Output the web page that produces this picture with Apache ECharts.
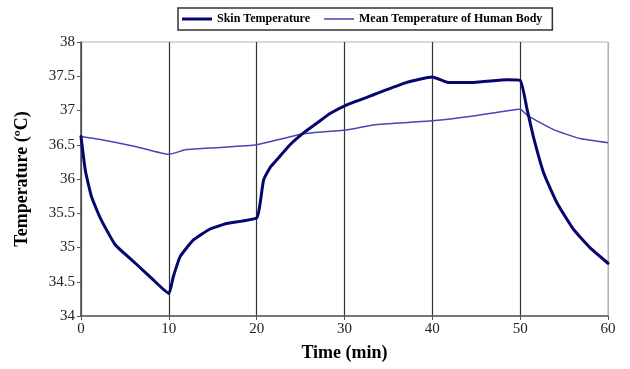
<!DOCTYPE html>
<html>
<head>
<meta charset="utf-8">
<script src="https://cdn.jsdelivr.net/npm/echarts@6/dist/echarts.min.js"></script>
<style>
  html, body { margin: 0; padding: 0; background: #fff; }
  #chart { width: 630px; height: 369px; }
</style>
</head>
<body>
<div id="chart"></div>
<script>
// Time (min) and temperatures (°C)
const skinTime = [0, 0.5, 1.2, 2.2, 3.9, 6.2, 8.05, 10,
  10.5, 11.3, 12.8, 14.7, 16.6, 20,
  20.4, 20.8, 21.6, 22.3, 23.8, 25.3, 26.9, 28.4, 30.4,
  33.3, 37.1, 40, 41.8, 44.7, 48.5, 50,
  50.8, 51.5, 52.7, 54.2, 56.1, 58.0, 60];
const skinTemp = [36.62, 36.12, 35.74, 35.43, 35.04, 34.77, 34.55, 34.33,
  34.57, 34.87, 35.11, 35.27, 35.35, 35.43,
  35.65, 35.99, 36.18, 36.28, 36.5, 36.67, 36.82, 36.96, 37.09,
  37.23, 37.41, 37.49, 37.41, 37.41, 37.45, 37.44,
  37.01, 36.62, 36.08, 35.65, 35.26, 34.99, 34.77];

const meanTime = [0, 2.5, 6.3, 10, 12, 15.8, 20, 23, 25.3, 30.4, 33.3, 40, 44.7, 50, 50.8, 53.8, 56.8, 60];
const meanTemp = [36.62, 36.57, 36.47, 36.36, 36.43, 36.46, 36.5, 36.59, 36.66, 36.72, 36.79, 36.85, 36.92, 37.02, 36.93, 36.72, 36.59, 36.53];

const seriesNames = ['Skin Temperature', 'Mean Temperature of Human Body'];

const zip = (xs, ys) => xs.map((x, i) => [x, ys[i]]);
const serif = 'Liberation Serif, Times New Roman, serif';
const skinColor = '#06066e';
const meanColor = '#4646b4';

const chart = echarts.init(document.getElementById('chart'), null, { renderer: 'canvas' });
chart.setOption({
  animation: false,
  backgroundColor: '#fff',
  textStyle: { fontFamily: serif },
  grid: {
    left: 81, right: 22, top: 42, bottom: 53,
    show: true, borderColor: '#b4b4b4', borderWidth: 1
  },
  legend: {
    left: 178, top: 8,
    padding: [5, 10, 5, 4],
    itemGap: 14,
    itemWidth: 30, itemHeight: 3,
    borderColor: '#333', borderWidth: 1.5,
    textStyle: { fontFamily: serif, fontWeight: 'bold', fontSize: 12, color: '#000' },
    data: [
      { name: seriesNames[0], icon: 'path://M0,0H30V3H0Z', itemStyle: { color: skinColor } },
      { name: seriesNames[1], icon: 'path://M0,0H30V1.5H0Z', itemStyle: { color: meanColor } }
    ]
  },
  xAxis: {
    type: 'value', min: 0, max: 60, interval: 10,
    name: 'Time (min)', nameLocation: 'middle', nameGap: 28,
    nameTextStyle: { fontFamily: serif, fontWeight: 'bold', fontSize: 18, color: '#000' },
    axisLine: { lineStyle: { color: '#555', width: 1.5 } },
    axisTick: { show: true, inside: false, length: 4, lineStyle: { color: '#555' } },
    axisLabel: { fontFamily: serif, fontSize: 15, color: '#222', margin: 6 },
    splitLine: { show: true, lineStyle: { color: ['#333', '#333', '#333', '#333', '#333', '#333', '#b4b4b4'], width: 1.2 } }
  },
  yAxis: {
    type: 'value', min: 34, max: 38, interval: 0.5,
    name: 'Temperature (ºC)', nameLocation: 'middle', nameGap: 50,
    nameTextStyle: { fontFamily: serif, fontWeight: 'bold', fontSize: 18, color: '#000' },
    axisLine: { show: true, lineStyle: { color: '#555', width: 1.5 } },
    axisTick: { show: true, inside: false, length: 4, lineStyle: { color: '#555' } },
    axisLabel: { fontFamily: serif, fontSize: 15, color: '#222', margin: 6 },
    splitLine: { show: false }
  },
  series: [
    {
      name: seriesNames[0], type: 'line', data: zip(skinTime, skinTemp),
      showSymbol: false, smooth: 0.15, z: 3,
      lineStyle: { color: skinColor, width: 3, join: 'round', cap: 'round' }, itemStyle: { color: skinColor }
    },
    {
      name: seriesNames[1], type: 'line', data: zip(meanTime, meanTemp),
      showSymbol: false, smooth: 0.15, z: 2,
      lineStyle: { color: meanColor, width: 1.5 }, itemStyle: { color: meanColor }
    }
  ]
});
</script>
</body>
</html>
